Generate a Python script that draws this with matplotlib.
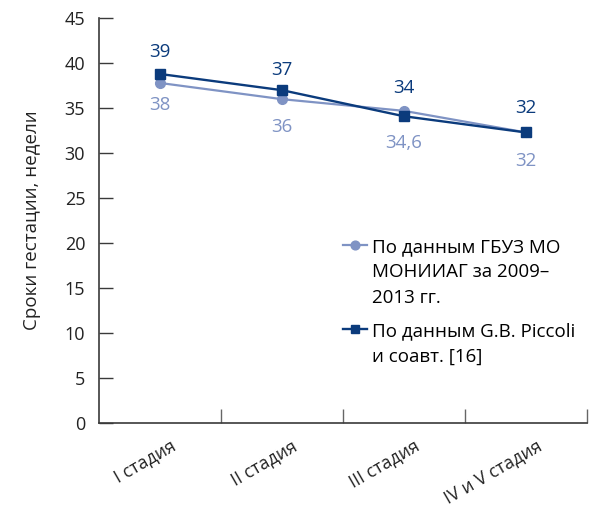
import matplotlib
matplotlib.use("Agg")
import matplotlib.pyplot as plt
import matplotlib.transforms as mtransforms

plt.rcParams["font.family"] = ["Open Sans", "DejaVu Sans"]

STAGES = ["I стадия", "II стадия", "III стадия", "IV и V стадия"]
LOCAL = [37.8, 36.0, 34.7, 32.3]
LOCAL_LABELS = ["38", "36", "34,6", "32"]
PICCOLI = [38.8, 37.0, 34.1, 32.3]
PICCOLI_LABELS = ["39", "37", "34", "32"]

LIGHT = "#7f93c4"
DARK = "#0b3b7c"
AXIS = "#3a3a3a"


def main():
    fig = plt.figure(figsize=(5.97, 5.07), dpi=100)
    ax = fig.add_axes([0.166, 0.166, 0.817, 0.798])

    x = list(range(len(STAGES)))
    ax.plot(x, LOCAL, color=LIGHT, lw=1.6, marker="o", ms=7,
            label="По данным ГБУЗ МО\nМОНИИАГ за 2009–\n2013 гг.")
    ax.plot(x, PICCOLI, color=DARK, lw=1.7, marker="s", ms=7,
            label="По данным G.B. Piccoli\nи соавт. [16]")

    # value labels: light below, dark above (offsets in px)
    below = [22, 28, 32, 29]
    above = [22, 20, 28, 24]
    for i in x:
        ax.annotate(LOCAL_LABELS[i], (i, LOCAL[i]), xytext=(0, -below[i] * 0.72),
                    textcoords="offset points", ha="center", va="center",
                    color=LIGHT, fontsize=13.5)
        ax.annotate(PICCOLI_LABELS[i], (i, PICCOLI[i]), xytext=(0, above[i] * 0.72),
                    textcoords="offset points", ha="center", va="center",
                    color=DARK, fontsize=13.5)

    ax.set_xlim(-0.5, 3.5)
    ax.set_ylim(0, 45)
    ax.set_yticks(range(0, 46, 5))
    ax.set_xticks(x)
    ax.set_xticklabels(STAGES, rotation=30, ha="right", rotation_mode="anchor")
    ax.set_xticks([0.5, 1.5, 2.5, 3.5], minor=True)
    ax.tick_params(axis="x", which="major", length=0, pad=10, labelsize=12.8,
                   labelcolor="#222222")
    ax.tick_params(axis="x", which="minor", direction="in", length=10,
                   width=1, color="#666666")
    ax.tick_params(axis="y", direction="in", length=10, width=1,
                   color=AXIS, labelsize=13, labelcolor="#222222", pad=10)
    offset = mtransforms.ScaledTranslation(7 / 72, 0, fig.dpi_scale_trans)
    for lab in ax.get_xticklabels():
        lab.set_transform(lab.get_transform() + offset)

    for side in ("top", "right"):
        ax.spines[side].set_visible(False)
    for side in ("left", "bottom"):
        ax.spines[side].set_color(AXIS)
        ax.spines[side].set_linewidth(1.2)

    ax.set_ylabel("Сроки гестации, недели", fontsize=13.5, color="#222222",
                  labelpad=17)

    leg = ax.legend(loc="upper left", bbox_to_anchor=(0.562, 0.545),
                    bbox_transform=fig.transFigure, frameon=False, fontsize=13.5,
                    handlelength=1.3, handletextpad=0.27, labelspacing=0.85,
                    borderaxespad=0, markerscale=0.9)
    # put each handle next to the first line of its label
    for col in leg._legend_handle_box.get_children():
        for item in col.get_children():
            item.align = "top"
    for t in leg.get_texts():
        t.set_linespacing(1.52)

    fig.savefig("out.png", dpi=100)


if __name__ == "__main__":
    main()
